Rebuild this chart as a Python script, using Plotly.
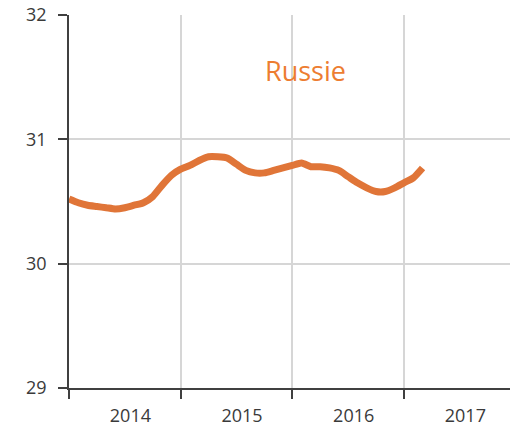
import plotly.graph_objects as go

# Monthly values, Jan 2014 onward
start_year = 2014
values = [30.52, 30.49, 30.47, 30.46, 30.45, 30.44, 30.45, 30.47, 30.49, 30.54,
          30.63, 30.71, 30.76, 30.79, 30.83, 30.86, 30.86, 30.85, 30.80, 30.75,
          30.73, 30.73, 30.75, 30.77, 30.79, 30.81, 30.78, 30.78, 30.77, 30.75,
          30.70, 30.65, 30.61, 30.58, 30.58, 30.61, 30.65, 30.69, 30.77]
year_labels = ["2014", "2015", "2016", "2017"]
y_ticks = [29, 30, 31, 32]
series_name = "Russie"

x = [start_year + i / 12 for i in range(len(values))]
label_pos = [int(l) + 0.55 for l in year_labels]

fig = go.Figure()
fig.add_trace(go.Scatter(x=x, y=values, mode="lines", line=dict(color="#E07538", width=7, shape="spline", smoothing=0.6),
                         name=series_name, showlegend=False, hoverinfo="skip"))

fig.add_annotation(text=series_name, x=2016.12, y=31.55, xref="x", yref="y", showarrow=False,
                   font=dict(family="Open Sans", size=27, color="#ED7D31"))

axis_font = dict(family="Open Sans", size=18, color="#3a3a3a")
fig.update_xaxes(range=[2014, 2017.95], tickvals=label_pos, ticktext=year_labels, ticks="", showgrid=False,
                 showline=True, linecolor="#404040", linewidth=1.8, zeroline=False, tickfont=axis_font,
                 ticklabelstandoff=10, automargin=False,
                 minor=dict(tick0=2014, dtick=1, ticks="outside", ticklen=9, tickcolor="#404040", tickwidth=1.8,
                            showgrid=True, gridcolor="#d6d6d6", gridwidth=1.5))
fig.update_yaxes(range=[29, 32], tickvals=y_ticks, ticks="outside", ticklen=9, tickcolor="#404040", tickwidth=1.8,
                 showline=True, linecolor="#404040", linewidth=1.8, showgrid=True, gridcolor="#d6d6d6", gridwidth=1.5,
                 zeroline=False, tickfont=axis_font, ticklabelstandoff=8, automargin=False)

fig.update_layout(width=510, height=427, margin=dict(l=69, r=0, t=15, b=39),
                  plot_bgcolor="white", paper_bgcolor="white")
fig.write_html("out.html", config={"displayModeBar": False},
               post_script="document.body.style.margin='0';document.body.style.overflow='hidden';")
